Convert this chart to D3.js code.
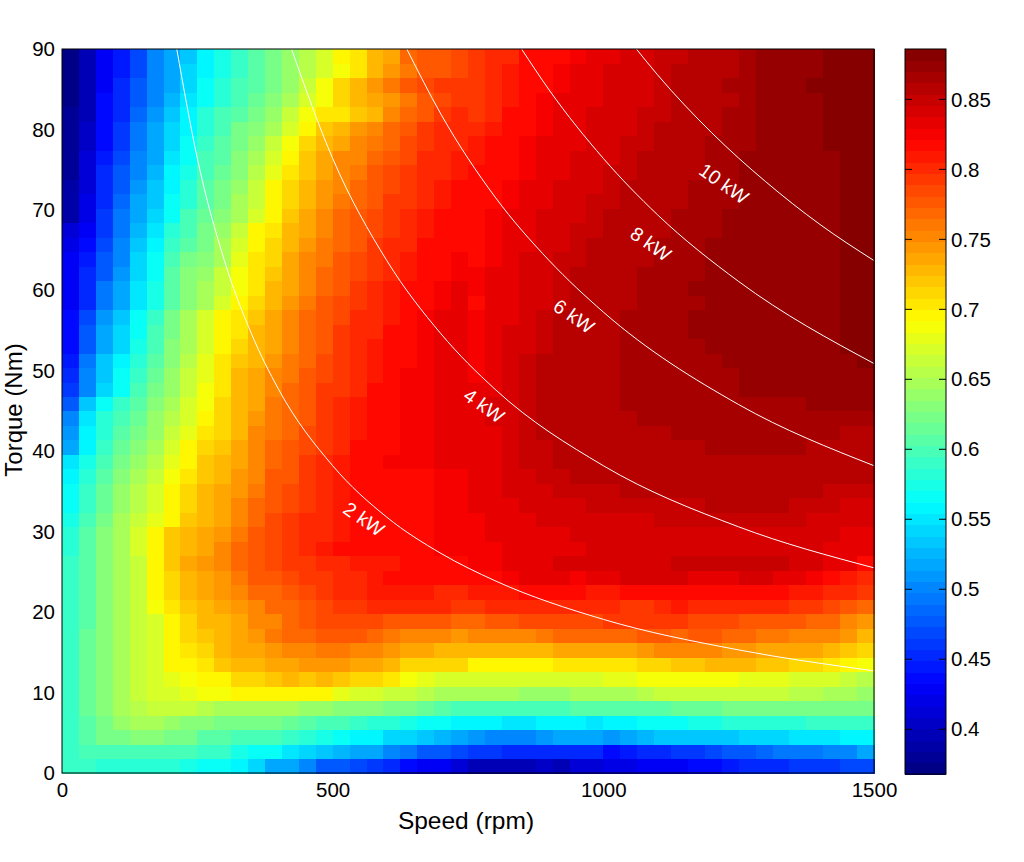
<!DOCTYPE html>
<html>
<head>
<meta charset="utf-8">
<script src="https://cdn.jsdelivr.net/npm/d3@7"></script>
<style>
  html, body { margin: 0; padding: 0; background: #fff; }
  svg { display: block; }
  text { font-family: "Liberation Sans", Arial, sans-serif; fill: #000; }
</style>
</head>
<body>
<svg></svg>
<script>
// efficiency, per mille, bottom row (0 Nm) first, left column (0 rpm) first
const efficiency = [
  [590,590,585,580,580,580,580,575,570,570,560,540,520,515,500,480,475,470,460,450,435,430,425,410,400,395,395,400,405,400,410,415,420,420,425,430,430,435,440,445,450,450,455,460,460,465,470,470],
  [590,600,600,600,600,600,595,595,590,590,575,570,565,550,540,530,525,520,515,505,490,480,475,470,460,460,455,450,450,450,450,450,440,445,450,455,460,465,470,475,480,485,490,490,495,500,505,515],
  [590,605,620,625,630,630,625,620,610,605,600,595,595,590,585,575,565,560,555,545,540,530,525,515,510,505,500,500,510,515,520,515,510,520,525,530,530,530,530,535,540,540,545,550,550,550,555,555],
  [590,610,625,640,645,645,640,635,630,625,625,620,620,615,610,600,595,590,585,580,575,570,565,560,560,555,550,550,560,560,560,550,560,560,565,570,570,575,575,580,580,580,585,585,590,590,590,590],
  [590,615,630,645,655,660,660,660,655,650,650,650,645,645,640,640,635,630,630,625,620,615,610,600,600,600,600,600,600,600,605,605,605,605,610,610,615,615,615,620,620,620,620,625,625,625,625,625],
  [590,615,635,650,665,670,675,680,685,690,695,695,695,695,695,695,680,675,670,665,660,655,650,650,645,645,645,640,640,640,645,645,650,650,655,660,660,665,665,665,660,660,660,655,655,650,645,640],
  [590,615,635,650,665,675,680,685,695,695,710,715,720,725,720,725,720,710,710,700,690,680,675,675,670,670,670,670,670,670,675,675,680,680,685,690,690,690,690,690,680,680,680,675,675,670,660,655],
  [590,615,635,650,665,675,695,695,705,720,725,725,735,740,745,745,745,740,735,725,715,715,710,710,695,695,695,695,695,700,700,700,705,705,710,710,720,720,725,725,725,720,720,715,710,700,695,685],
  [590,615,635,650,665,675,695,705,715,725,735,740,745,750,755,760,760,755,750,745,740,735,730,725,725,730,730,730,730,735,735,735,740,740,745,750,750,750,750,745,745,740,740,735,735,730,720,710],
  [590,615,635,650,665,675,695,710,720,725,735,745,760,765,770,775,775,775,770,760,755,755,750,745,750,750,755,755,760,765,765,765,770,770,775,775,770,775,775,770,770,760,760,755,755,750,745,730],
  [590,610,635,650,665,675,695,715,725,730,740,750,755,765,780,785,785,785,785,780,775,775,775,770,770,775,780,785,785,785,785,785,790,790,790,795,790,785,785,785,780,780,775,775,770,765,755,745],
  [590,610,635,650,665,690,700,720,730,740,745,750,765,770,780,785,790,795,800,800,800,800,800,795,790,800,800,800,800,800,800,800,800,795,790,800,810,800,800,800,800,800,800,795,790,785,775,770],
  [590,610,635,650,665,695,710,725,735,745,750,765,770,780,785,790,800,805,810,810,810,810,805,800,810,810,810,815,815,815,815,810,810,820,820,820,820,820,820,820,820,820,815,810,810,800,800,790],
  [590,610,635,650,665,695,715,730,740,745,760,775,780,785,790,795,800,805,810,815,815,815,815,815,820,820,825,830,830,835,825,830,835,840,840,840,845,835,835,835,840,840,835,830,825,820,810,800],
  [590,610,635,650,665,695,720,735,745,750,765,775,785,790,795,800,800,810,810,810,815,815,820,820,825,825,830,835,835,840,840,840,840,840,845,845,850,850,850,850,850,850,850,845,840,835,830,820],
  [585,610,635,650,670,695,720,730,740,750,765,780,785,790,800,810,815,820,820,820,820,820,825,825,825,825,830,830,830,835,835,840,840,840,840,840,845,845,845,845,845,845,845,845,840,835,835,830],
  [580,605,630,650,670,695,720,730,735,745,760,775,785,790,800,805,810,815,820,820,820,820,825,825,825,830,830,835,835,835,840,840,840,845,845,845,845,845,845,845,845,845,845,845,840,840,835,835],
  [575,600,625,650,665,680,695,720,730,740,755,770,785,790,800,805,810,815,820,820,820,820,825,825,825,830,835,835,840,840,845,845,845,845,845,850,850,850,850,850,850,850,850,850,845,845,840,840],
  [565,590,615,640,655,675,695,715,725,735,750,765,780,785,795,800,810,815,820,820,820,820,825,825,830,830,835,840,840,845,845,850,850,850,850,850,850,850,855,855,855,855,855,850,850,850,845,845],
  [565,590,615,640,655,675,695,715,725,735,745,760,780,785,795,800,810,815,820,820,820,820,825,825,830,835,840,840,845,850,850,850,850,855,855,855,855,855,855,855,855,855,855,855,855,850,850,850],
  [555,580,605,630,650,665,685,700,720,725,745,755,775,780,790,800,810,815,820,820,820,820,825,825,830,835,840,845,850,850,855,855,855,855,855,860,860,860,860,860,860,860,860,860,855,855,855,855],
  [550,575,600,625,640,655,680,695,720,725,740,755,770,780,790,800,810,815,820,825,825,825,830,835,830,835,840,850,850,855,855,855,855,860,860,860,860,860,860,860,860,860,860,860,860,860,860,855],
  [515,560,590,615,630,650,670,695,715,720,735,755,765,775,785,795,805,815,820,820,825,825,830,835,830,835,845,850,850,855,855,860,860,860,860,860,860,860,865,865,865,865,865,865,860,860,860,860],
  [510,555,585,605,625,640,665,680,705,715,730,750,760,770,785,795,805,810,820,820,825,825,830,835,830,835,845,850,855,855,855,860,860,860,860,860,865,865,865,865,865,865,865,865,865,865,860,860],
  [500,550,580,600,615,640,655,670,695,715,730,745,760,770,780,795,805,810,820,820,825,825,830,835,830,840,845,850,855,855,860,860,860,860,865,865,865,865,865,865,865,865,865,865,865,865,865,865],
  [480,535,565,590,610,630,650,670,690,710,730,740,760,770,780,790,800,810,815,820,825,825,830,835,830,840,845,850,855,855,860,860,860,865,865,865,865,865,865,865,865,865,865,865,870,870,870,870],
  [460,505,540,570,595,620,640,660,685,705,730,740,755,770,775,790,795,805,815,820,825,825,830,835,830,835,845,850,855,855,860,860,860,865,865,865,865,865,865,865,870,870,870,870,870,870,875,875],
  [450,500,535,565,590,615,640,660,680,700,725,735,750,760,775,785,795,805,810,820,825,825,830,835,825,835,845,850,855,855,860,860,860,865,865,865,865,865,865,865,870,870,870,870,870,870,875,875],
  [445,490,530,555,585,610,635,655,680,700,720,730,745,760,770,785,790,805,810,820,820,825,830,830,825,835,840,850,855,855,860,860,860,865,865,865,865,865,865,870,870,870,870,870,870,870,875,880],
  [440,480,520,545,575,600,630,650,675,695,710,730,740,755,770,780,790,800,810,820,820,825,830,830,825,835,840,845,850,855,860,860,860,865,865,865,865,865,870,870,870,870,870,870,870,875,880,880],
  [435,475,515,540,570,595,625,650,670,695,705,725,740,755,770,775,790,800,805,815,820,825,830,830,825,830,840,845,850,855,860,860,860,865,865,865,865,870,870,870,870,870,870,870,870,875,880,885],
  [435,470,510,535,565,590,620,645,670,695,705,720,735,750,765,780,785,800,805,810,820,825,830,830,825,830,835,840,850,855,855,860,860,865,865,865,865,870,870,870,870,870,875,875,875,875,880,885],
  [430,455,490,520,550,575,605,630,650,670,695,710,730,745,760,775,785,795,800,810,820,820,825,835,820,830,835,840,845,850,855,860,860,860,865,865,865,865,870,870,870,870,870,875,875,875,880,885],
  [430,455,490,515,550,575,610,635,650,665,690,705,725,740,755,770,780,790,800,810,815,820,825,830,825,830,835,845,845,850,855,860,860,860,865,865,865,870,870,870,870,870,875,875,875,875,880,885],
  [430,450,480,510,545,570,605,630,640,660,690,705,720,740,750,765,780,785,795,805,810,820,820,825,825,830,835,840,845,850,855,855,860,860,865,865,865,865,870,870,870,870,870,875,875,875,880,885],
  [425,445,475,505,540,565,600,620,635,650,680,700,715,735,750,760,775,785,790,800,810,820,820,825,820,825,835,840,845,850,850,855,860,860,860,865,865,865,870,870,870,870,870,875,875,875,880,885],
  [420,435,470,500,530,560,590,610,625,645,670,695,710,730,745,760,770,780,790,800,805,815,820,820,820,825,830,835,840,845,850,855,855,860,860,865,865,865,870,870,870,870,870,875,875,875,885,885],
  [410,430,465,495,525,550,580,600,620,640,660,695,705,725,740,755,765,775,785,795,805,810,815,820,820,825,830,835,840,845,850,850,855,860,860,860,865,865,865,870,870,870,875,875,875,875,885,885],
  [390,420,460,490,520,545,570,595,615,630,650,675,695,720,735,750,765,775,785,790,800,810,815,815,820,825,830,830,840,840,845,850,855,855,860,860,865,865,865,870,870,870,875,875,875,875,885,885],
  [385,420,455,485,515,535,565,585,610,625,645,665,695,715,730,745,760,770,780,790,795,805,810,815,820,820,825,830,835,840,845,850,850,855,860,860,860,865,865,865,870,870,870,875,875,875,885,885],
  [385,415,450,480,510,530,560,580,605,620,640,660,695,710,725,745,755,765,780,785,795,800,810,815,815,820,825,830,835,840,840,845,850,855,855,860,860,865,865,865,870,870,870,875,875,875,885,885],
  [380,410,450,475,505,525,555,575,600,615,635,655,680,700,720,740,750,760,775,785,790,800,805,810,815,820,820,825,830,835,840,845,850,850,855,860,860,860,865,865,870,870,870,875,875,875,885,885],
  [380,410,445,470,500,520,550,570,595,610,630,650,670,695,720,740,750,755,770,780,785,800,800,810,810,815,820,825,830,835,840,840,845,850,855,855,860,860,865,865,870,870,870,875,875,875,885,885],
  [380,405,440,465,495,515,545,565,590,605,625,640,660,690,710,725,735,750,760,770,785,790,800,805,810,815,820,825,830,830,835,840,845,850,850,855,860,860,865,865,865,870,870,875,875,880,885,885],
  [380,405,440,460,490,515,540,560,585,600,620,635,650,670,695,720,730,745,755,770,780,790,800,800,800,810,815,820,825,830,835,840,845,845,850,855,855,860,860,865,865,870,870,875,875,880,885,885],
  [380,400,435,455,485,510,535,555,580,595,610,625,640,660,690,700,705,720,730,750,765,780,790,800,795,805,815,820,825,830,835,840,840,845,850,850,855,860,860,865,865,870,870,875,875,880,885,885],
  [375,400,435,450,480,505,525,550,570,585,600,615,630,645,670,690,710,725,735,745,760,780,785,795,790,800,810,820,825,830,830,835,840,845,845,850,855,855,860,860,865,870,870,875,875,880,885,885],
  [375,395,430,450,475,500,520,545,565,580,595,610,625,640,660,690,710,725,745,760,775,785,790,795,790,800,810,815,820,825,830,835,840,845,845,850,855,860,860,865,865,870,870,875,880,880,885,885],
  [375,395,430,445,470,500,515,540,560,575,590,610,625,640,655,675,690,705,725,745,760,775,780,785,790,800,810,815,820,825,830,830,840,840,845,850,855,855,860,860,865,870,870,875,875,880,885,885],
  [375,395,430,445,470,500,515,535,560,575,590,610,625,640,655,675,695,705,725,740,765,775,780,785,795,800,805,815,820,820,825,830,835,840,845,850,850,855,860,860,865,870,870,875,875,880,885,885]
];
const speedTicks = [0, 500, 1000, 1500];
const torqueTicks = [0, 10, 20, 30, 40, 50, 60, 70, 80, 90];
const colorbarTicks = [0.4, 0.45, 0.5, 0.55, 0.6, 0.65, 0.7, 0.75, 0.8, 0.85];
const colorRange = [0.368, 0.886];

// constant power curves: [rpm, Nm]
const curves = [
  { label: "2 kW", at: [556, 31.4], points: [[212,90],[250,76.4],[300,63.7],[350,54.6],[400,47.7],[500,38.2],[600,31.8],[700,27.3],[800,23.9],[1000,19.1],[1250,15.3],[1500,12.7]] },
  { label: "4 kW", at: [778, 45.5], points: [[424,90],[500,76.4],[600,63.7],[700,54.6],[800,47.7],[1000,38.2],[1250,30.6],[1500,25.5]] },
  { label: "6 kW", at: [944, 56.6], points: [[637,90],[700,81.9],[800,71.6],[900,63.7],[1000,57.3],[1250,45.8],[1500,38.2]] },
  { label: "8 kW", at: [1086, 65.6], points: [[849,90],[900,84.9],[1000,76.4],[1100,69.4],[1250,61.1],[1500,50.9]] },
  { label: "10 kW", at: [1221, 73.1], points: [[1061,90],[1100,86.8],[1200,79.6],[1300,73.5],[1400,68.2],[1500,63.7]] }
];

const svg = d3.select("svg").attr("width", 1024).attr("height", 862);
const plot = { left: 62, top: 49, width: 812, height: 724 };
const bar = { left: 905, top: 49, width: 41, height: 725 };

// 64 level jet, like the figure's colormap
const jet = d3.range(64).map((i) => {
  const t = (i + 0.5) / 64;
  const ch = (c) => Math.round(255 * Math.max(0, Math.min(1, 1.5 - Math.abs(4 * t - c))));
  return d3.rgb(ch(3), ch(2), ch(1)).formatHex();
});
const color = d3.scaleQuantize().domain(colorRange).range(jet);

const x = d3.scaleLinear().domain([0, 1500]).range([0, plot.width]);
const y = d3.scaleLinear().domain([0, 90]).range([plot.height, 0]);
const col = d3.scaleBand().domain(d3.range(efficiency[0].length)).range([0, plot.width]);
const row = d3.scaleBand().domain(d3.range(efficiency.length)).range([plot.height, 0]);

const graph = svg.append("g").attr("transform", `translate(${plot.left}, ${plot.top})`);

graph
  .selectAll("g.row")
  .data(efficiency)
  .join("g")
  .attr("class", "row")
  .attr("transform", (d, i) => `translate(0, ${row(i)})`)
  .selectAll("rect")
  .data((d) => d)
  .join("rect")
  .attr("x", (d, i) => col(i))
  .attr("width", col.bandwidth() + 0.5)
  .attr("height", row.bandwidth() + 0.5)
  .attr("shape-rendering", "crispEdges")
  .attr("fill", (d) => color(d / 1000));

const line = d3
  .line()
  .x((d) => x(d[0]))
  .y((d) => y(d[1]))
  .curve(d3.curveMonotoneX);

graph
  .selectAll("path.curve")
  .data(curves)
  .join("path")
  .attr("class", "curve")
  .attr("d", (d) => line(d.points))
  .attr("fill", "none")
  .attr("stroke", "#fff")
  .attr("stroke-width", 1);

graph
  .selectAll("text.curve-label")
  .data(curves)
  .join("text")
  .attr("class", "curve-label")
  .attr("text-anchor", "middle")
  .attr("dominant-baseline", "middle")
  .attr("transform", (d) => `translate(${x(d.at[0])}, ${y(d.at[1])}) rotate(35)`)
  .attr("font-size", 19.5)
  .style("fill", "#fff")
  .text((d) => d.label);

graph
  .append("rect")
  .attr("width", plot.width)
  .attr("height", plot.height)
  .attr("fill", "none")
  .attr("stroke", "#000");

const xAxis = d3.axisBottom(x).tickValues(speedTicks).tickFormat(d3.format("d")).tickSize(0).tickPadding(9);
const yAxis = d3.axisLeft(y).tickValues(torqueTicks).tickSize(0).tickPadding(7);
const xAxisGroup = graph.append("g").attr("transform", `translate(0, ${plot.height})`).call(xAxis);
const yAxisGroup = graph.append("g").call(yAxis);
[xAxisGroup, yAxisGroup].forEach((g) => {
  g.select(".domain").remove();
  g.selectAll("text").attr("font-size", 20.5).style("font-family", '"Liberation Sans", Arial, sans-serif');
});

svg
  .append("text")
  .attr("x", 466)
  .attr("y", 829)
  .attr("text-anchor", "middle")
  .attr("font-size", 24.5)
  .text("Speed (rpm)");

svg
  .append("text")
  .attr("transform", "translate(22, 410) rotate(-90)")
  .attr("text-anchor", "middle")
  .attr("font-size", 24)
  .text("Torque (Nm)");

// colorbar
const cb = svg.append("g").attr("transform", `translate(${bar.left}, ${bar.top})`);
const cbLevel = d3.scaleBand().domain(d3.range(64)).range([bar.height, 0]);
const cbY = d3.scaleLinear().domain(colorRange).range([bar.height, 0]);

cb.selectAll("rect.level")
  .data(jet)
  .join("rect")
  .attr("class", "level")
  .attr("y", (d, i) => cbLevel(i))
  .attr("width", bar.width)
  .attr("height", cbLevel.bandwidth() + 0.5)
  .attr("shape-rendering", "crispEdges")
  .attr("fill", (d) => d);

const cbTicks = cb
  .selectAll("g.tick")
  .data(colorbarTicks)
  .join("g")
  .attr("class", "tick")
  .attr("transform", (d) => `translate(0, ${cbY(d)})`);

cbTicks.append("line").attr("x2", 7).attr("stroke", "#000");
cbTicks.append("line").attr("x1", bar.width - 7).attr("x2", bar.width).attr("stroke", "#000");
cbTicks
  .append("text")
  .attr("x", bar.width + 5)
  .attr("dy", "0.35em")
  .attr("font-size", 20.5)
  .text((d) => d);

cb.append("rect")
  .attr("width", bar.width)
  .attr("height", bar.height)
  .attr("fill", "none")
  .attr("stroke", "#000");
</script>
</body>
</html>
